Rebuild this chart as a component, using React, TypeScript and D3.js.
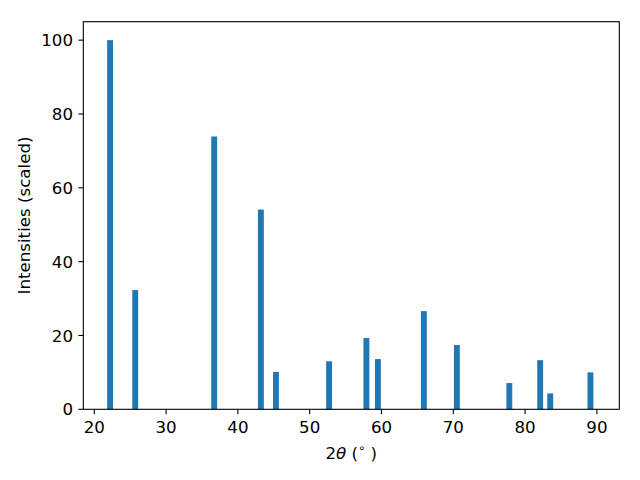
import React from "react";
import * as d3 from "d3";

const angles = [22.2, 25.7, 36.7, 43.2, 45.3, 52.7, 57.9, 59.5, 65.9, 70.5, 77.8, 82.1, 83.5, 89.1];
const intensities = [100, 32.3, 73.9, 54.1, 10.1, 13.0, 19.3, 13.6, 26.6, 17.4, 7.1, 13.3, 4.3, 10.0];
const xTicks = [20, 30, 40, 50, 60, 70, 80, 90];
const yTicks = [0, 20, 40, 60, 80, 100];
const xDomain = [18.47, 93.12];

const W = 640;
const H = 480;
const M = { left: 83.3, right: 619.3, top: 21.7, bottom: 409.3 };
const BAR_W = 0.82;
const FS = 16.67;
const FONT = "DejaVu Sans, sans-serif";

export default function App() {
  const x = d3.scaleLinear().domain(xDomain).range([M.left, M.right]);
  const ymax = d3.max(intensities)! * 1.05;
  const y = d3.scaleLinear().domain([0, ymax]).range([M.bottom, M.top]);

  return (
    <svg width={W} height={H} style={{ display: "block", position: "absolute", left: 0, top: 0 }} fontFamily={FONT}>
      <rect x={0} y={0} width={W} height={H} fill="white" />
      {angles.map((a, i) => (
        <rect
          key={i}
          x={x(a - BAR_W / 2)}
          y={y(intensities[i])}
          width={x(a + BAR_W / 2) - x(a - BAR_W / 2)}
          height={y(0) - y(intensities[i])}
          fill="#1f77b4"
        />
      ))}
      <rect
        x={M.left}
        y={M.top}
        width={M.right - M.left}
        height={M.bottom - M.top}
        fill="none"
        stroke="black"
        strokeWidth={1.1}
      />
      {xTicks.map((t) => (
        <g key={"x" + t} transform={`translate(${x(t)},${M.bottom})`}>
          <line y1={0} y2={4.9} stroke="black" strokeWidth={1.1} />
          <text y={23.8} textAnchor="middle" fontSize={FS} fill="black">
            {t}
          </text>
        </g>
      ))}
      {yTicks.map((t) => (
        <g key={"y" + t} transform={`translate(${M.left},${y(t)})`}>
          <line x1={0} x2={-4.9} stroke="black" strokeWidth={1.1} />
          <text x={-10.3} dy="0.37em" textAnchor="end" fontSize={FS} fill="black">
            {t}
          </text>
        </g>
      ))}
      <text x={(M.left + M.right) / 2} y={458.5} textAnchor="middle" fontSize={FS} fill="black">
        2<tspan fontStyle="italic">θ</tspan> (
        <tspan fontSize={11.5} dy={-7}>∘</tspan>
        <tspan dy={7}> )</tspan>
      </text>
      <text
        transform={`translate(30,${(M.top + M.bottom) / 2}) rotate(-90)`}
        textAnchor="middle"
        fontSize={FS}
        fill="black"
      >
        Intensities (scaled)
      </text>
    </svg>
  );
}
